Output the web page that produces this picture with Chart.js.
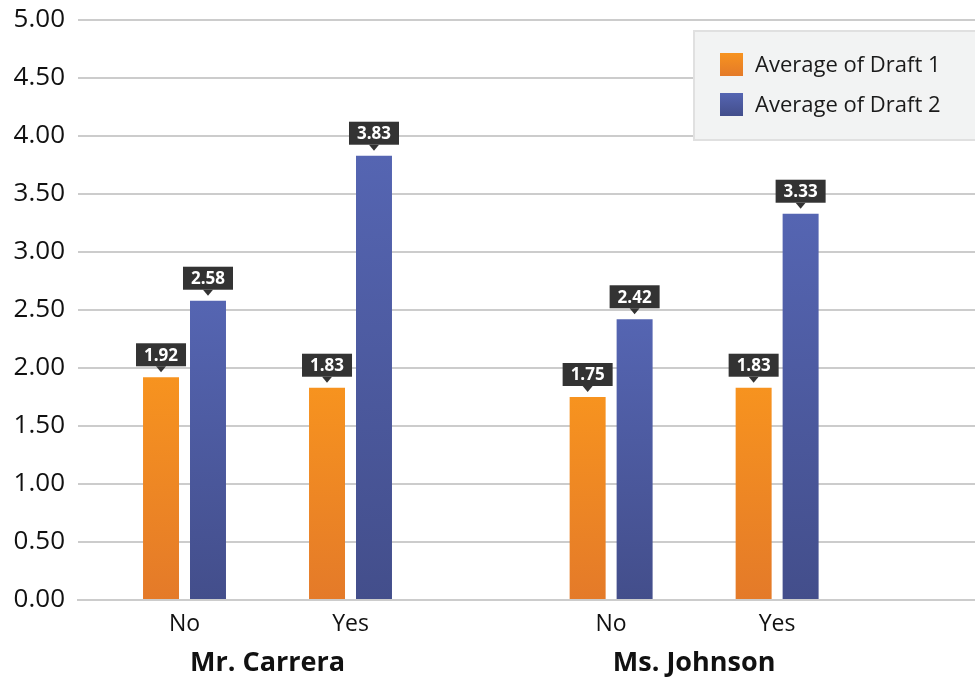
<!DOCTYPE html>
<html>
<head>
<meta charset="utf-8">
<script src="https://cdn.jsdelivr.net/npm/chart.js@4.4.0/dist/chart.umd.min.js"></script>
<style>
  html, body { margin: 0; padding: 0; background: #fff; }
  #wrap { width: 975px; height: 677px; position: relative; }
</style>
</head>
<body>
<div id="wrap"><canvas id="chart"></canvas></div>
<script>
// DATA
const teachers = ["Mr. Carrera", "Ms. Johnson"];
const answers = ["No", "Yes"];
const seriesNames = ["Average of Draft 1", "Average of Draft 2"];
const draft1 = [1.92, 1.83, 1.75, 1.83];
const draft2 = [2.58, 3.83, 2.42, 3.33];
const yTicks = [0, 0.5, 1, 1.5, 2, 2.5, 3, 3.5, 4, 4.5, 5];

// layout: distance between teacher groups, in answer-slot units
const groupGap = 2.57;

const xPos = [];
const xLabel = [];
teachers.forEach((t, g) => answers.forEach((a, s) => {
  xPos.push(g * groupGap + s);
  xLabel.push(a);
}));

const orange = ["#f7931f", "#e47a29"];
const blue = ["#5565b2", "#434e8b"];
const FONT = "'Open Sans', sans-serif";

function barFill(colors) {
  return ctx => {
    const chart = ctx.chart;
    if (!chart.chartArea || !ctx.parsed) return colors[0];
    const top = chart.scales.y.getPixelForValue(ctx.parsed.y);
    const g = chart.ctx.createLinearGradient(0, top, 0, chart.chartArea.bottom);
    g.addColorStop(0, colors[0]);
    g.addColorStop(1, colors[1]);
    return g;
  };
}

// dark value boxes with a small pointer
const barLabels = {
  id: "barLabels",
  afterDatasetsDraw(chart) {
    const c = chart.ctx;
    c.save();
    c.font = "bold 17px " + FONT;
    c.textAlign = "center";
    c.textBaseline = "middle";
    chart.data.datasets.forEach((ds, di) => {
      chart.getDatasetMeta(di).data.forEach((bar, i) => {
        const txt = ds.data[i].y.toFixed(2);
        const w = c.measureText(txt).width + 16;
        const h = 23;
        const tip = bar.y - 5;
        const bottom = bar.y - 11;
        c.fillStyle = "#333333";
        c.fillRect(bar.x - w / 2, bottom - h, w, h);
        c.beginPath();
        c.moveTo(bar.x - 5, bottom);
        c.lineTo(bar.x + 5, bottom);
        c.lineTo(bar.x, tip);
        c.closePath();
        c.fill();
        c.fillStyle = "#ffffff";
        c.fillText(txt, bar.x, bottom - h / 2 + 1);
      });
    });
    c.restore();
  }
};

// teacher names under the answers + boxed legend
const extras = {
  id: "extras",
  afterDraw(chart) {
    const c = chart.ctx;
    const xs = chart.scales.x;
    const area = chart.chartArea;
    c.save();
    c.font = "bold 27px " + FONT;
    c.fillStyle = "#111111";
    c.textAlign = "center";
    c.textBaseline = "middle";
    teachers.forEach((t, g) => {
      const a = xs.getPixelForValue(g * groupGap);
      const b = xs.getPixelForValue(g * groupGap + answers.length - 1);
      c.fillText(t, (a + b) / 2, area.bottom + 63);
    });

    const bx = area.right - 281, by = 31;
    c.fillStyle = "#f2f3f3";
    c.fillRect(bx, by, 300, 109);
    c.strokeStyle = "#e0e0e0";
    c.lineWidth = 2;
    c.strokeRect(bx, by, 300, 109);
    c.font = "22px " + FONT;
    c.textAlign = "left";
    [orange, blue].forEach((col, i) => {
      const y = by + 22 + i * 40;
      const g = c.createLinearGradient(0, y, 0, y + 23);
      g.addColorStop(0, col[0]);
      g.addColorStop(1, col[1]);
      c.fillStyle = g;
      c.fillRect(bx + 26, y, 23, 23);
      c.fillStyle = "#1a1a1a";
      c.fillText(seriesNames[i], bx + 61, y + 13);
    });
    c.restore();
  }
};

new Chart(document.getElementById("chart"), {
  type: "bar",
  data: {
    datasets: [
      {
        label: seriesNames[0],
        data: draft1.map((v, i) => ({ x: xPos[i], y: v })),
        backgroundColor: barFill(orange)
      },
      {
        label: seriesNames[1],
        data: draft2.map((v, i) => ({ x: xPos[i], y: v })),
        backgroundColor: barFill(blue)
      }
    ]
  },
  options: {
    responsive: true,
    maintainAspectRatio: false,
    animation: false,
    events: [],
    categoryPercentage: 0.566,
    barPercentage: 0.766,
    layout: { padding: { top: 20, right: 0, left: 0, bottom: 0 } },
    plugins: { legend: { display: false }, tooltip: { enabled: false } },
    scales: {
      x: {
        type: "linear",
        offset: false,
        min: -0.6416,
        max: 4.762,
        afterBuildTicks: s => { s.ticks = xPos.map(v => ({ value: v })); },
        afterFit: s => { s.height = 77; s.paddingLeft = 0; s.paddingRight = 0; },
        grid: { display: false },
        border: { display: true, color: "#cccccc", width: 2 },
        ticks: {
          padding: 3,
          color: "#111111",
          font: { family: FONT, size: 23 },
          maxRotation: 0,
          autoSkip: false,
          callback: (v, i) => xLabel[i]
        }
      },
      y: {
        min: yTicks[0],
        max: yTicks[yTicks.length - 1],
        afterBuildTicks: s => { s.ticks = yTicks.map(v => ({ value: v })); },
        afterFit: s => { s.width = 78; s.paddingTop = 0; s.paddingBottom = 0; },
        grid: { color: "#cccccc", lineWidth: 2, drawTicks: false },
        border: { display: false },
        ticks: {
          padding: 13,
          color: "#111111",
          font: { family: FONT, size: 26 },
          callback: v => v.toFixed(2)
        }
      }
    }
  },
  plugins: [barLabels, extras]
});
</script>
</body>
</html>
